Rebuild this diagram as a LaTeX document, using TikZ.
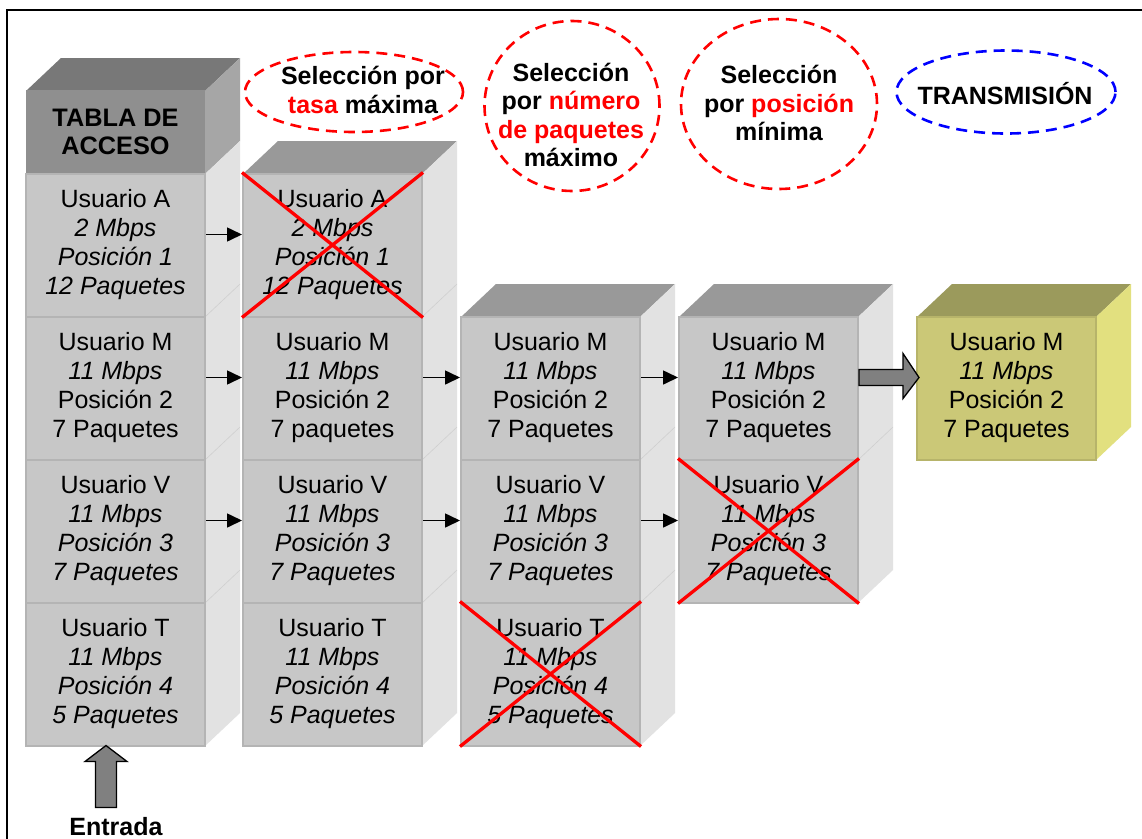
\documentclass[tikz,border=0pt]{standalone}
\usepackage{fontspec}
\setmainfont{Liberation Sans}
\usetikzlibrary{shapes.geometric,arrows.meta,calc}

\definecolor{hdrtop}{HTML}{787878}
\definecolor{hdrface}{HTML}{8F8F8F}
\definecolor{hdrside}{HTML}{A6A6A6}
\definecolor{coltop}{HTML}{999999}
\definecolor{cellgray}{HTML}{C7C7C7}
\definecolor{celledge}{HTML}{B4B4B4}
\definecolor{sidegray}{HTML}{E2E2E2}
\definecolor{sideline}{HTML}{CFCFCF}
\definecolor{olivetop}{HTML}{9B9A5C}
\definecolor{oliveface}{HTML}{CBC877}
\definecolor{oliveedge}{HTML}{B7B46A}
\definecolor{oliveside}{HTML}{E2E07F}
\definecolor{blockgray}{HTML}{808080}
\definecolor{markred}{HTML}{FF0000}
\definecolor{selblue}{HTML}{0000FF}

% side face of a column: front right edge at x, from ytop to ybot, depth (35,-33)
\newcommand\drawside[4]{\fill[#4] (#1,#2) -- ($(#1,#2)+(35,-33)$) -- ($(#1,#3)+(35,-33)$) -- (#1,#3) -- cycle;}
% top face of a column: front left corner (x,y)
\newcommand\drawtop[3]{\fill[#3] (#1,#2) -- ($(#1,#2)+(35,-33)$) -- ($(#1,#2)+(214,-33)$) -- ($(#1,#2)+(179,0)$) -- cycle;}
% faint seam on a side face
\newcommand\drawseam[2]{\draw[sideline, line width=0.6pt] (#1,#2) -- ($(#1,#2)+(35,-33)$);}

\begin{document}
\begin{tikzpicture}[x=1pt,y=-1pt,
  cellfont/.style={font=\fontsize{25}{29}\selectfont},
  cellbox/.style={rectangle, fill=cellgray, draw=celledge, line width=2pt,
    minimum width=179pt, minimum height=143pt, inner sep=0pt, align=center, cellfont},
  hdrbox/.style={rectangle, fill=hdrface, minimum width=179pt, minimum height=83pt,
    inner sep=0pt, align=center, font=\fontsize{25.3}{28}\selectfont\bfseries},
  olivebox/.style={cellbox, fill=oliveface, draw=oliveedge},
  flow/.style={-{Triangle[length=15pt,width=14pt]}, line width=1.6pt},
  xmark/.style={markred, line width=3.3pt},
  selring/.style={ellipse, draw=markred, dashed, dash pattern=on 11pt off 7pt, line width=2.6pt, inner sep=0pt},
  seltext/.style={align=center, font=\fontsize{25}{28.5}\selectfont\bfseries},
  blockarrow/.style={fill=blockgray, draw=black, line width=1.3pt, line join=miter}
]
\useasboundingbox (0,0) rectangle (1142,838);
\fill[white] (0,0) rectangle (1142,838);

% outer frame
\draw[line width=2pt] (7,860) -- (7,10) -- (1160,10);

% ---------- column 1: access table ----------
\drawtop{26}{91}{hdrtop}
\drawside{205}{91}{174}{hdrside}
\drawside{205}{174}{746}{sidegray}
\drawseam{205}{317}\drawseam{205}{460}\drawseam{205}{603}
\node[hdrbox] (hdr) at (115.5,131.5) {TABLA DE\\ACCESO};
\node[cellbox] (a1) at (115.5,245) {Usuario A\\\textit{2 Mbps}\\\textit{Posición 1}\\\textit{12 Paquetes}};
\node[cellbox] (a2) at (115.5,388) {Usuario M\\\textit{11 Mbps}\\Posición 2\\7 Paquetes};
\node[cellbox] (a3) at (115.5,531) {Usuario V\\\textit{11 Mbps}\\\textit{Posición 3}\\\textit{7 Paquetes}};
\node[cellbox] (a4) at (115.5,674) {Usuario T\\\textit{11 Mbps}\\\textit{Posición 4}\\\textit{5 Paquetes}};

% ---------- column 2 ----------
\drawtop{243}{174}{coltop}
\drawside{422}{174}{746}{sidegray}
\drawseam{422}{317}\drawseam{422}{460}\drawseam{422}{603}
\node[cellbox] (b1) at (332.5,245) {Usuario A\\\textit{2 Mbps}\\\textit{Posición 1}\\\textit{12 Paquetes}};
\node[cellbox] (b2) at (332.5,388) {Usuario M\\\textit{11 Mbps}\\Posición 2\\7 paquetes};
\node[cellbox] (b3) at (332.5,531) {Usuario V\\\textit{11 Mbps}\\\textit{Posición 3}\\\textit{7 Paquetes}};
\node[cellbox] (b4) at (332.5,674) {Usuario T\\\textit{11 Mbps}\\\textit{Posición 4}\\\textit{5 Paquetes}};

% ---------- column 3 ----------
\drawtop{461}{317}{coltop}
\drawside{640}{317}{746}{sidegray}
\drawseam{640}{460}\drawseam{640}{603}
\node[cellbox] (c2) at (550.5,388) {Usuario M\\\textit{11 Mbps}\\Posición 2\\7 Paquetes};
\node[cellbox] (c3) at (550.5,531) {Usuario V\\\textit{11 Mbps}\\\textit{Posición 3}\\\textit{7 Paquetes}};
\node[cellbox] (c4) at (550.5,674) {Usuario T\\\textit{11 Mbps}\\\textit{Posición 4}\\\textit{5 Paquetes}};

% ---------- column 4 ----------
\drawtop{679}{317}{coltop}
\drawside{858}{317}{603}{sidegray}
\drawseam{858}{460}
\node[cellbox] (d2) at (768.5,388) {Usuario M\\\textit{11 Mbps}\\Posición 2\\7 Paquetes};
\node[cellbox] (d3) at (768.5,531) {Usuario V\\\textit{11 Mbps}\\\textit{Posición 3}\\\textit{7 Paquetes}};

% ---------- transmitted user ----------
\drawtop{917}{317}{olivetop}
\drawside{1096}{317}{460}{oliveside}
\node[olivebox] (e2) at (1006.5,388) {Usuario M\\\textit{11 Mbps}\\Posición 2\\7 Paquetes};

% ---------- flow arrows ----------
\draw[flow] ([yshift=10.5pt]a1.east) -- ([yshift=10.5pt]b1.west);
\draw[flow] ([yshift=10.5pt]a2.east) -- ([yshift=10.5pt]b2.west);
\draw[flow] ([yshift=10.5pt]a3.east) -- ([yshift=10.5pt]b3.west);
\draw[flow] ([yshift=10.5pt]b2.east) -- ([yshift=10.5pt]c2.west);
\draw[flow] ([yshift=10.5pt]b3.east) -- ([yshift=10.5pt]c3.west);
\draw[flow] ([yshift=10.5pt]c2.east) -- ([yshift=10.5pt]d2.west);
\draw[flow] ([yshift=10.5pt]c3.east) -- ([yshift=10.5pt]d3.west);

% block arrow towards transmission
\draw[blockarrow, shift={(d2.east)}]
  (0,-18.5) -- (44,-18.5) -- (44,-34.5) -- (60,-10.5) -- (44,10.5) -- (44,-2.5) -- (0,-2.5) -- cycle;

% entry arrow
\node[font=\fontsize{25}{29}\selectfont\bfseries, anchor=base] (entrada) at (116,835) {Entrada};
\draw[blockarrow, shift={(a4.south)}]
  (-20,61) -- (-20,15) -- (-30.5,15) -- (-9.5,-1) -- (11.5,15) -- (1,15) -- (1,61) -- cycle;

% ---------- discarded entries ----------
\draw[xmark] (b1.north west) -- (b1.south east) (b1.south west) -- (b1.north east);
\draw[xmark] (c4.north west) -- (c4.south east) (c4.south west) -- (c4.north east);
\draw[xmark] (d3.north west) -- (d3.south east) (d3.south west) -- (d3.north east);

% ---------- selection criteria ----------
\node[selring, minimum width=218pt, minimum height=80pt] (rate) at (354,92) {};
\node[seltext] (ratetext) at (363,90) {Selección por\\\textcolor{markred}{tasa} máxima};

\node[selring, minimum width=175pt, minimum height=170pt] (count) at (572,106) {};
\node[seltext] (counttext) at (571,115) {Selección\\por \textcolor{markred}{número}\\\textcolor{markred}{de paquetes}\\máximo};

\node[selring, minimum width=196pt, minimum height=170pt] (pos) at (779,104) {};
\node[seltext] (postext) at (779,103) {Selección\\por \textcolor{markred}{posición}\\mínima};

\node[selring, draw=selblue, minimum width=219pt, minimum height=83pt] (tx) at (1006,92) {};
\node[seltext] (txtext) at (1005,94) {TRANSMISIÓN};

\end{tikzpicture}
\end{document}
